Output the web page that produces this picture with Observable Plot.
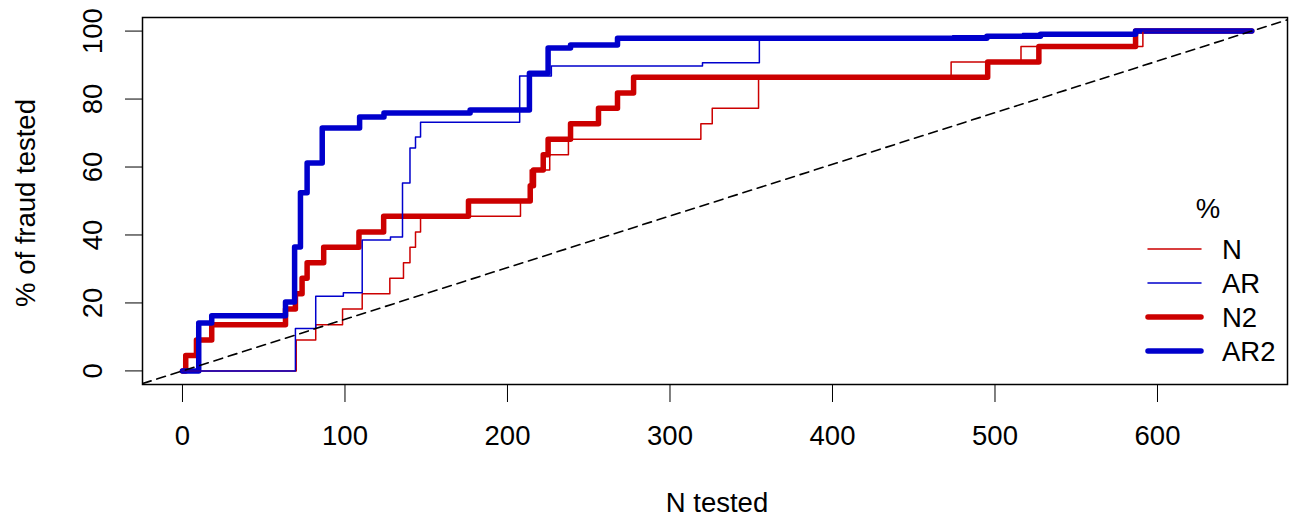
<!DOCTYPE html>
<html><head><meta charset="utf-8">
<script src="https://cdn.jsdelivr.net/npm/d3@7"></script>
<script src="https://cdn.jsdelivr.net/npm/@observablehq/plot@0.6"></script>
<style>
body{margin:0;background:#fff;}
svg{font-family:"Liberation Sans",Arial,sans-serif;}
</style>
</head><body><div id="chart"></div>
<script>
// ---- data ----
const seriesNames = ["N", "AR", "N2", "AR2"];
const seriesColors = ["#cc0000", "#0000cc", "#cc0000", "#0000cc"];
const seriesWidths = [1.5, 1.5, 5.5, 5.5];

const nX  = [0, 70, 82, 98.5, 110.6, 127.6, 136, 140, 143.4, 146.5, 208, 214, 226, 237.5, 319, 326, 354.5, 473, 516, 591, 658];
const nY  = [0, 9.1, 13.6, 18.2, 22.7, 27.3, 31.8, 36.4, 40.9, 45.5, 50, 59.1, 63.6, 68.2, 72.7, 77.3, 86.4, 90.9, 95.5, 100, 100];

const arX = [0, 69.5, 82, 99, 110.6, 128, 135.4, 140, 143.4, 146.5, 207.5, 227, 320, 355, 474, 517, 587.5, 658];
const arY = [0, 12.5, 22, 23, 38.5, 39.4, 55.3, 65.6, 68.8, 73.2, 86.8, 89.7, 90.7, 97.9, 98.6, 99.3, 100, 100];

const n2X = [0, 2, 8.6, 18, 63.4, 69.5, 73.6, 76.7, 86.9, 108.6, 123.8, 176, 214, 216, 222, 225, 238.8, 256, 267.7, 277.6, 495.5, 527, 586.5, 658];
const n2Y = [0, 4.5, 9.1, 13.6, 18.2, 22.7, 27.3, 31.8, 36.4, 40.9, 45.5, 50, 54.5, 59.1, 63.6, 68.2, 72.7, 77.3, 81.8, 86.4, 90.9, 95.5, 100, 100];

const ar2X = [0, 10, 18, 63.4, 69, 72.6, 76.7, 86, 109, 124, 177, 213.5, 225, 238.8, 267.7, 495, 528, 586.5, 658];
const ar2Y = [0, 14.1, 16.2, 20.3, 36.5, 52.4, 61.2, 71.5, 74.7, 75.9, 76.8, 87.6, 95, 95.9, 97.9, 98.5, 99.1, 100, 100];

const nTotal = 658;
const xTicks = [0, 100, 200, 300, 400, 500, 600];
const yTicks = [0, 20, 40, 60, 80, 100];
const xTitle = "N tested";
const yTitle = "% of fraud tested";
const legendTitle = "%";

// ---- build ----
const toRows = (xs, ys, name) => xs.map((x, i) => ({x, y: ys[i], series: name}));
const allSeries = [
  toRows(nX, nY, "N"), toRows(arX, arY, "AR"),
  toRows(n2X, n2Y, "N2"), toRows(ar2X, ar2Y, "AR2")
];

const W = 1294, H = 519, mL = 142, mR = 7, mT = 17, mB = 135;
const xDomain = [-24.6, 680];
const yDomain = [-4, 104];
const diag = xDomain.map(x => ({x, y: 100 * x / nTotal}));
const FS = 27.5;
const FONT = FS + "px";

const lineMark = (i) => Plot.line(allSeries[i], {
  x: "x", y: "y", curve: "step-after",
  stroke: seriesColors[i], strokeWidth: seriesWidths[i]
});

const chart = Plot.plot({
  width: W, height: H,
  marginLeft: mL, marginRight: mR, marginTop: mT, marginBottom: mB,
  style: {fontSize: FONT, fontFamily: '"Liberation Sans", Arial, sans-serif', background: "white", color: "black"},
  x: {domain: xDomain, ticks: xTicks, tickSize: 18, tickPadding: 23, label: null, tickFormat: d => String(d)},
  y: {domain: yDomain, ticks: yTicks, tickSize: 17, tickFormat: () => "", label: null},
  marks: [
    lineMark(2), lineMark(3), lineMark(0), lineMark(1),
    Plot.line(diag, {x: "x", y: "y", stroke: "black", strokeWidth: 1.6, strokeDasharray: "9,6", clip: true}),
    Plot.text(yTicks, {y: d => d, text: d => String(d), frameAnchor: "left", dx: -49, rotate: -90,
      textAnchor: "middle", lineAnchor: "middle", fontSize: FS}),
    Plot.frame({stroke: "black", strokeWidth: 1.5})
  ]
});

const svg = d3.select(chart);
svg.append("text").text(xTitle)
  .attr("x", 717).attr("y", 502).attr("dy", "0.35em")
  .attr("text-anchor", "middle").attr("font-size", FONT);
svg.append("text").text(yTitle)
  .attr("transform", "translate(25,203) rotate(-90)").attr("dy", "0.35em")
  .attr("text-anchor", "middle").attr("font-size", FONT);

// legend (inside plot, bottom right)
const lg = svg.append("g");
lg.append("text").text(legendTitle).attr("x", 1208).attr("y", 208).attr("dy", "0.35em")
  .attr("text-anchor", "middle").attr("font-size", FONT);
const legendY = [249, 283, 317, 351];
seriesNames.forEach((name, i) => {
  lg.append("line").attr("x1", 1148).attr("x2", 1201)
    .attr("y1", legendY[i]).attr("y2", legendY[i])
    .attr("stroke", seriesColors[i]).attr("stroke-width", seriesWidths[i])
    .attr("stroke-linecap", "round");
  lg.append("text").text(name).attr("x", 1222).attr("y", legendY[i]).attr("dy", "0.35em")
    .attr("text-anchor", "start").attr("font-size", FONT);
});

document.getElementById("chart").appendChild(chart);
</script>
</body></html>
